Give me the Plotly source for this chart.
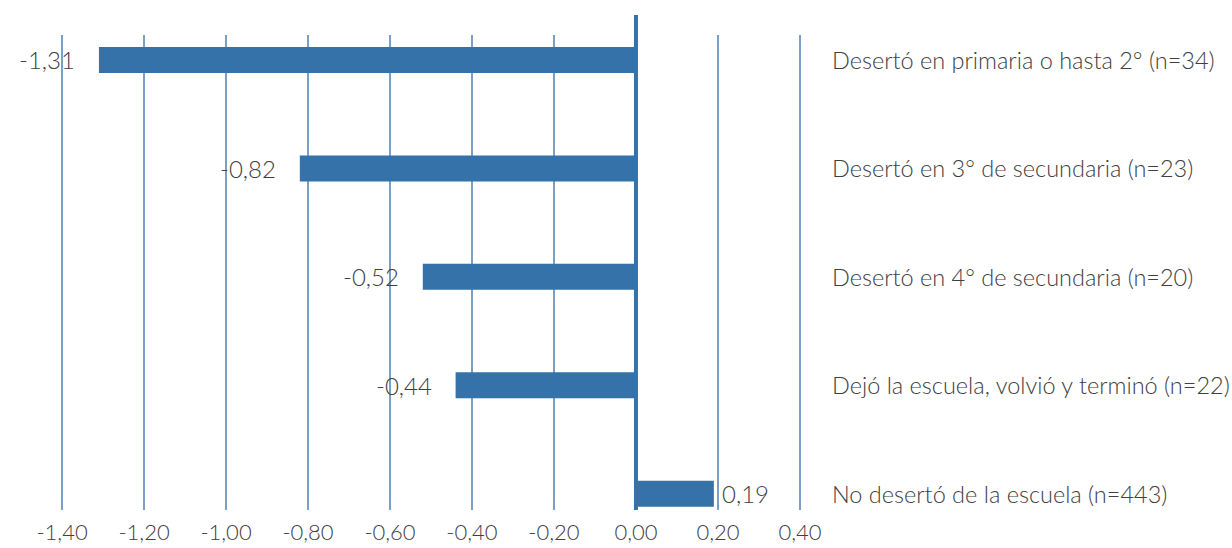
import plotly.graph_objects as go

categories = [
    "Desertó en primaria o hasta 2° (n=34)",
    "Desertó en 3° de secundaria (n=23)",
    "Desertó en 4° de secundaria (n=20)",
    "Dejó la escuela, volvió y terminó (n=22)",
    "No desertó de la escuela (n=443)",
]
values = [-1.31, -0.82, -0.52, -0.44, 0.19]
labels = ["-1,31", "-0,82", "-0,52", "-0,44", "0,19"]
tick_vals = [-1.4, -1.2, -1.0, -0.8, -0.6, -0.4, -0.2, 0.0, 0.2, 0.4]
tick_text = ["-1,40", "-1,20", "-1,00", "-0,80", "-0,60", "-0,40", "-0,20", "0,00", "0,20", "0,40"]

BAR = "#3572AA"
GRID = "#7BA0C8"
TXT = "#404040"
FONT = "Lato"

fig = go.Figure()
fig.add_trace(go.Bar(
    x=values, y=categories, orientation="h",
    marker=dict(color=BAR, line=dict(width=0)),
    width=0.24, hoverinfo="skip",
))

annotations = []
for c, v, lab in zip(categories, values, labels):
    annotations.append(dict(
        x=v, y=c, xref="x", yref="y", text=lab, showarrow=False,
        xanchor="right" if v < 0 else "left",
        xshift=-22 if v < 0 else 6,
        font=dict(family=FONT, size=24, color=TXT, weight=300),
    ))
    annotations.append(dict(
        x=1, y=c, xref="paper", yref="y", text=c, showarrow=False,
        xanchor="left", xshift=28,
        font=dict(family=FONT, size=23.5, color=TXT, weight=300),
    ))

fig.update_layout(
    width=1232, height=548,
    margin=dict(l=60, r=430, t=35, b=38),
    plot_bgcolor="white", paper_bgcolor="white",
    showlegend=False,
    annotations=annotations,
    xaxis=dict(
        range=[-1.405, 0.405], tickvals=tick_vals, ticktext=tick_text,
        showgrid=True, gridcolor=GRID, gridwidth=2,
        zeroline=False, showline=False, ticks="",
        ticklabelstandoff=7, automargin=False,
        tickfont=dict(family=FONT, size=22, color=TXT, weight=300),
    ),
    yaxis=dict(
        categoryorder="array", categoryarray=categories,
        autorange=False, range=[4.15, -0.23], automargin=False,
        showticklabels=False, showgrid=False, zeroline=False, ticks="",
    ),
    shapes=[dict(
        type="line", xref="x", yref="paper", x0=0, x1=0, y0=0, y1=1.042,
        line=dict(color=BAR, width=4), layer="above",
    )],
)

fig.write_html("out.html")
